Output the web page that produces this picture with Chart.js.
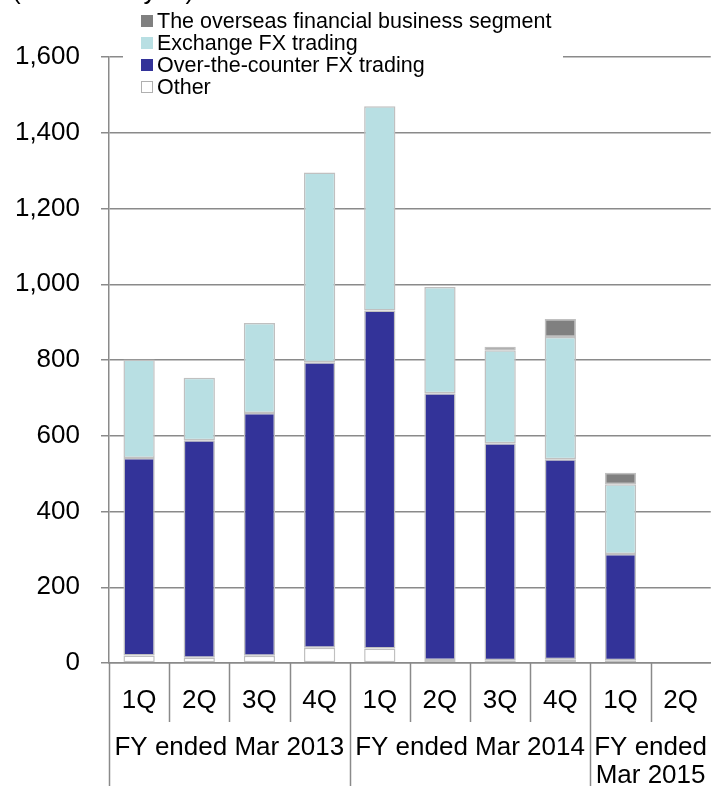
<!DOCTYPE html>
<html>
<head>
<meta charset="utf-8">
<script src="https://cdn.jsdelivr.net/npm/chart.js@4.4.0/dist/chart.umd.min.js"></script>
<style>
html,body{margin:0;padding:0;background:#fff;}
#wrap{position:relative;width:720px;height:786px;}
</style>
</head>
<body>
<div id="wrap"><canvas id="c" width="720" height="786"></canvas></div>
<script>
// ---- data ----
const quarters = ['1Q','2Q','3Q','4Q','1Q','2Q','3Q','4Q','1Q','2Q'];
const fiscalYears = [['FY ended Mar 2013'], ['FY ended Mar 2014'], ['FY ended', 'Mar 2015']];
const fyGroupSizes = [4, 4, 2];
const other      = [20, 14, 19, 40, 38, 8, 7, 10, 7, null];
const otcFx      = [521, 574, 641, 754, 893, 704, 573, 528, 281, null];
const exchangeFx = [260, 165, 238, 501, 539, 281, 246, 323, 184, null];
const overseas   = [null, null, null, null, null, null, 9, 47, 30, null];
const seriesNames = ['Other', 'Over-the-counter FX trading', 'Exchange FX trading', 'The overseas financial business segment'];
const yMin = 0, yMax = 1600, yStep = 200;
const unitLabel = '(Millions of yen)';

const FONT = "'Liberation Sans', Arial, sans-serif";
const GRID = '#8a8a8a';
const EDGE = '#c0c0c0';

function ds(label, data, color) {
  return { label, data, backgroundColor: color, borderColor: EDGE, borderWidth: 1.5,
           borderSkipped: false, categoryPercentage: 1, barPercentage: 0.52 };
}

const decorPlugin = {
  id: 'decor',
  afterDraw(chart) {
    const ctx = chart.ctx;
    const x = chart.scales.x;
    const area = chart.chartArea;
    const n = quarters.length;
    const catW = (x.getPixelForValue(1) - x.getPixelForValue(0));
    const edge = i => x.getPixelForValue(0) - catW / 2 + i * catW;
    const H = chart.height;
    ctx.save();
    // separators under x axis
    ctx.strokeStyle = GRID;
    ctx.lineWidth = 1.5;
    const fyStarts = [];
    let acc = 0;
    fyGroupSizes.forEach(s => { fyStarts.push(acc); acc += s; });
    for (let i = 0; i < n; i++) {
      const px = Math.round(edge(i)) + 0.5;
      const long = fyStarts.includes(i);
      ctx.beginPath();
      ctx.moveTo(px, area.bottom);
      ctx.lineTo(px, long ? H : area.bottom + 59);
      ctx.stroke();
    }
    // fiscal-year group labels
    ctx.fillStyle = '#000';
    ctx.font = '26px ' + FONT;
    ctx.textAlign = 'center';
    ctx.textBaseline = 'middle';
    fiscalYears.forEach((lines, g) => {
      const a = edge(fyStarts[g]);
      const b = edge(fyStarts[g] + fyGroupSizes[g]);
      const cx = (a + b) / 2;
      lines.forEach((t, k) => ctx.fillText(t, cx, area.bottom + 85 + k * 28));
    });
    // unit label (cut at top edge)
    ctx.textAlign = 'left';
    ctx.textBaseline = 'alphabetic';
    ctx.fillText(unitLabel, 12, -1);
    // legend
    ctx.fillStyle = '#fff';
    ctx.fillRect(123, 6, 440, 94);
    ctx.font = '21.5px ' + FONT;
    ctx.textBaseline = 'middle';
    const dsets = chart.data.datasets.slice().reverse();
    dsets.forEach((d, k) => {
      const cy = 21 + k * 22;
      ctx.fillStyle = d.backgroundColor;
      ctx.fillRect(141, cy - 6, 12, 12);
      ctx.strokeStyle = d.backgroundColor === '#ffffff' ? '#b0b0b0' : d.backgroundColor;
      ctx.lineWidth = 1;
      ctx.strokeRect(141.5, cy - 5.5, 11, 11);
      ctx.fillStyle = '#000';
      ctx.fillText(d.label, 157, cy + 1);
    });
    ctx.restore();
  }
};

new Chart(document.getElementById('c'), {
  type: 'bar',
  data: {
    labels: quarters,
    datasets: [
      ds(seriesNames[0], other, '#ffffff'),
      ds(seriesNames[1], otcFx, '#333399'),
      ds(seriesNames[2], exchangeFx, '#b8dfe3'),
      ds(seriesNames[3], overseas, '#808080')
    ]
  },
  options: {
    responsive: false,
    animation: false,
    devicePixelRatio: 1,
    layout: { padding: { top: 57, left: 0, right: 0, bottom: 0 } },
    plugins: { legend: { display: false }, tooltip: { enabled: false }, title: { display: false } },
    scales: {
      x: {
        stacked: true,
        offset: true,
        grid: { display: false, drawTicks: false },
        border: { display: true, color: GRID, width: 1.5 },
        ticks: { color: '#000', font: { family: FONT, size: 26 }, padding: 22, maxRotation: 0, autoSkip: false },
        afterFit: s => { s.height = 123; }
      },
      y: {
        stacked: true,
        min: yMin, max: yMax,
        grid: { color: GRID, lineWidth: 1.5, tickLength: 8, drawTicks: true },
        border: { display: true, color: GRID, width: 1.5 },
        ticks: { stepSize: yStep, color: '#000', font: { family: FONT, size: 26 }, padding: 21,
                 callback: v => v.toLocaleString('en-US') },
        afterFit: s => { s.width = 109; }
      }
    }
  },
  plugins: [decorPlugin]
});
</script>
</body>
</html>
